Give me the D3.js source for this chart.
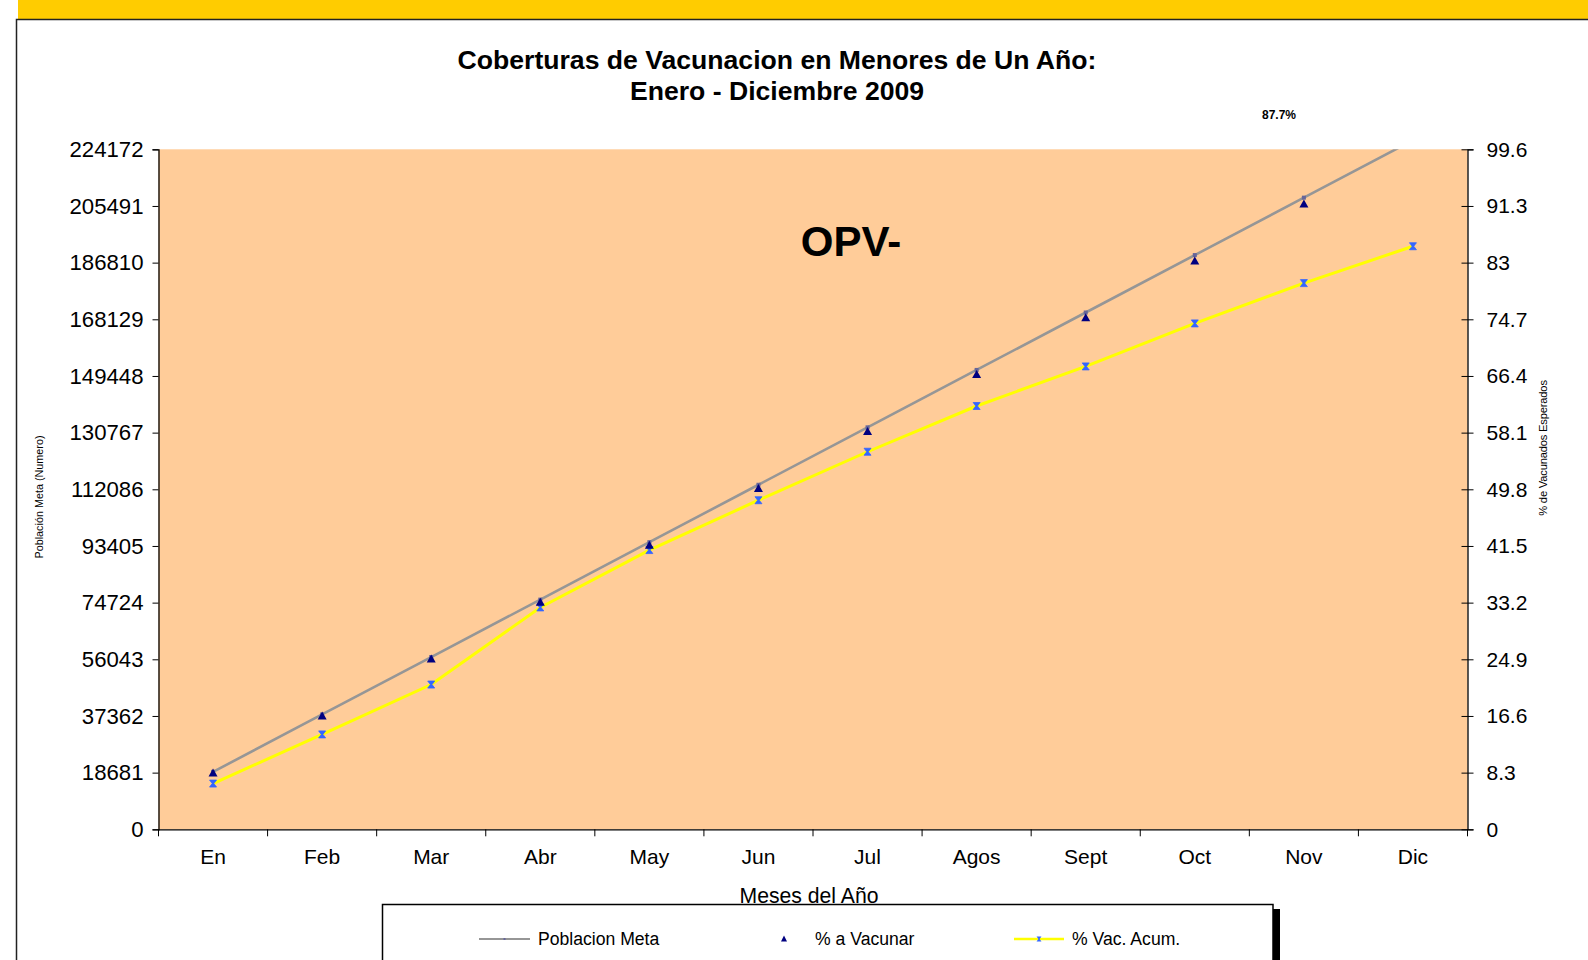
<!DOCTYPE html>
<html>
<head>
<meta charset="utf-8">
<script src="https://cdn.jsdelivr.net/npm/d3@7"></script>
<style>
  html, body { margin: 0; padding: 0; background: #fff; }
  svg { display: block; font-family: Arial, "Liberation Sans", sans-serif; }
</style>
</head>
<body>
<div id="chart"></div>
<script>
const meses = ["En", "Feb", "Mar", "Abr", "May", "Jun", "Jul", "Agos", "Sept", "Oct", "Nov", "Dec"];
const mesLabels = ["En", "Feb", "Mar", "Abr", "May", "Jun", "Jul", "Agos", "Sept", "Oct", "Nov", "Dic"];
// poblacion meta acumulada (eje izquierdo)
const poblacionMeta = [18930, 37860, 56790, 75720, 94650, 113580, 132510, 151440, 170370, 189300, 208230, 227160];
// % esperado a vacunar (eje derecho)
const pctVacunar = [8.33, 16.67, 25, 33.33, 41.67, 50, 58.33, 66.67, 75, 83.33, 91.67, 100];
// % vacunados acumulado (eje derecho)
const pctVacAcum = [6.7, 13.9, 21.2, 32.5, 40.9, 48.2, 55.3, 62.0, 67.8, 74.1, 80.0, 85.4];
const leftTicks = [0, 18681, 37362, 56043, 74724, 93405, 112086, 130767, 149448, 168129, 186810, 205491, 224172];
const rightTicks = [0, 8.3, 16.6, 24.9, 33.2, 41.5, 49.8, 58.1, 66.4, 74.7, 83, 91.3, 99.6];

const width = 1588, height = 960;
const plot = {left: 158.5, right: 1467.5, top: 149.3, bottom: 829.3};

const svg = d3.select("#chart").append("svg")
    .attr("width", width)
    .attr("height", height);

// yellow band and panel frame
svg.append("rect").attr("x", 18).attr("y", 0).attr("width", width - 18).attr("height", 19).attr("fill", "#FFCC00");
svg.append("path")
    .attr("d", `M16.5,${height} V19.5 H${width}`)
    .attr("fill", "none").attr("stroke", "#222").attr("stroke-width", 1.5);

const x = d3.scaleBand().domain(meses).range([plot.left, plot.right]).padding(0);
const yL = d3.scaleLinear().domain([0, 224172]).range([plot.bottom, plot.top]);
const yR = d3.scaleLinear().domain([0, 99.6]).range([plot.bottom, plot.top]);
const cx = d => x(d) + x.bandwidth() / 2;

svg.append("rect")
    .attr("x", plot.left).attr("y", plot.top)
    .attr("width", plot.right - plot.left).attr("height", plot.bottom - plot.top)
    .attr("fill", "#FFCC99");

svg.append("defs").append("clipPath").attr("id", "plotClip")
  .append("rect")
    .attr("x", plot.left).attr("y", plot.top)
    .attr("width", plot.right - plot.left).attr("height", plot.bottom - plot.top);

// axes
const gL = svg.append("g").attr("transform", `translate(${plot.left},0)`)
    .call(d3.axisLeft(yL).tickValues(leftTicks).tickFormat(d3.format("d")).tickSizeOuter(0).tickSize(6).tickPadding(9));
const gR = svg.append("g").attr("transform", `translate(${plot.right},0)`)
    .call(d3.axisRight(yR).tickValues(rightTicks).tickFormat(d => String(d)).tickSizeOuter(0).tickSize(6).tickPadding(13));
gR.selectAll(".tick line").attr("x1", -6);
const gB = svg.append("g").attr("transform", `translate(0,${plot.bottom})`)
    .call(d3.axisBottom(x).tickFormat((d, i) => mesLabels[i]).tickSize(0).tickPadding(20));
// band boundary ticks
gB.selectAll(".bound").data(d3.range(meses.length + 1)).join("line")
    .attr("class", "bound")
    .attr("x1", i => plot.left + i * x.bandwidth()).attr("x2", i => plot.left + i * x.bandwidth())
    .attr("y1", 0).attr("y2", 7).attr("stroke", "#000");
[gL, gR, gB].forEach(g => {
  g.selectAll("text").attr("font-size", "21px").attr("fill", "#000").attr("font-family", "Arial, 'Liberation Sans', sans-serif");
  g.select(".domain").attr("stroke", "#000").attr("stroke-width", 1.3);
  g.selectAll(".tick line").attr("stroke", "#000");
});
gL.selectAll("text").attr("font-size", "22.2px");

const series = svg.append("g").attr("clip-path", "url(#plotClip)");

// Poblacion Meta line
series.append("path")
    .datum(poblacionMeta)
    .attr("fill", "none").attr("stroke", "#969696").attr("stroke-width", 2.6)
    .attr("d", d3.line().x((d, i) => cx(meses[i])).y(d => yL(d)));
series.selectAll(".metaPt").data(poblacionMeta).join("rect")
    .attr("class", "metaPt")
    .attr("x", (d, i) => cx(meses[i]) - 2).attr("y", d => yL(d) - 2)
    .attr("width", 4).attr("height", 4).attr("fill", "#666699");

// % Vac. Acum. line
series.append("path")
    .datum(pctVacAcum)
    .attr("fill", "none").attr("stroke", "#FFFF00").attr("stroke-width", 3)
    .attr("d", d3.line().x((d, i) => cx(meses[i])).y(d => yR(d)));

const xMark = "M-3.5,-3.5 L3.5,-3.5 L0.8,0 L3.5,3.5 L-3.5,3.5 L-0.8,0 Z";
series.selectAll(".acumPt").data(pctVacAcum).join("path")
    .attr("class", "acumPt")
    .attr("transform", (d, i) => `translate(${cx(meses[i])},${yR(d)})`)
    .attr("d", xMark).attr("fill", "#3366FF").attr("stroke", "#3366FF").attr("stroke-width", 0.8);

// % a Vacunar triangles (only inside plot)
const tri = "M0,-5 L4.5,3 L-4.5,3 Z";
svg.selectAll(".vacPt").data(pctVacunar.map((v, i) => [meses[i], v]).filter(d => d[1] <= 99.6)).join("path")
    .attr("class", "vacPt")
    .attr("transform", d => `translate(${cx(d[0])},${yR(d[1]) + 1})`)
    .attr("d", tri).attr("fill", "#000080");

// titles and labels
svg.append("text").attr("x", 777).attr("y", 69).attr("text-anchor", "middle")
    .attr("font-size", "26.6px").attr("font-weight", "bold").text("Coberturas de Vacunacion en Menores de Un Año:");
svg.append("text").attr("x", 777).attr("y", 100).attr("text-anchor", "middle")
    .attr("font-size", "26.6px").attr("font-weight", "bold").text("Enero - Diciembre 2009");
svg.append("text").attr("x", 1279).attr("y", 119).attr("text-anchor", "middle")
    .attr("font-size", "12px").attr("font-weight", "bold").text("87.7%");
svg.append("text").attr("x", 851).attr("y", 256).attr("text-anchor", "middle")
    .attr("font-size", "42px").attr("font-weight", "bold").text("OPV-");

svg.append("text").attr("transform", "translate(43,497) rotate(-90)").attr("text-anchor", "middle")
    .attr("font-size", "10.8px").text("Población Meta (Numero)");
svg.append("text").attr("transform", "translate(1547,448) rotate(-90)").attr("text-anchor", "middle")
    .attr("font-size", "11.2px").attr("letter-spacing", "-0.2px").text("% de Vacunados Esperados");
svg.append("text").attr("x", 809).attr("y", 903).attr("text-anchor", "middle")
    .attr("font-size", "21.2px").text("Meses del Año");

// legend
svg.append("rect").attr("x", 1273).attr("y", 909).attr("width", 7).attr("height", 60).attr("fill", "#000");
svg.append("rect").attr("x", 382.5).attr("y", 904.5).attr("width", 890.5).attr("height", 70)
    .attr("fill", "#fff").attr("stroke", "#000").attr("stroke-width", 1.5);
const ly = 939;
const lg = svg.append("g");
lg.append("line").attr("x1", 479).attr("x2", 530).attr("y1", ly).attr("y2", ly).attr("stroke", "#969696").attr("stroke-width", 2);
lg.append("rect").attr("x", 503.5).attr("y", ly - 1).attr("width", 2).attr("height", 2).attr("fill", "#666699");
lg.append("text").attr("x", 538).attr("y", ly + 6).attr("font-size", "17.6px").text("Poblacion Meta");
lg.append("path").attr("transform", `translate(784,${ly})`).attr("d", "M0,-3.5 L3,2.5 L-3,2.5 Z").attr("fill", "#000080");
lg.append("text").attr("x", 815).attr("y", ly + 6).attr("font-size", "17.6px").text("% a Vacunar");
lg.append("line").attr("x1", 1014).attr("x2", 1064).attr("y1", ly).attr("y2", ly).attr("stroke", "#FFFF00").attr("stroke-width", 2.5);
lg.append("path").attr("transform", `translate(1039,${ly}) scale(0.7)`).attr("d", xMark).attr("fill", "#3366FF");
lg.append("text").attr("x", 1072).attr("y", ly + 6).attr("font-size", "17.6px").text("% Vac. Acum.");
</script>
</body>
</html>
